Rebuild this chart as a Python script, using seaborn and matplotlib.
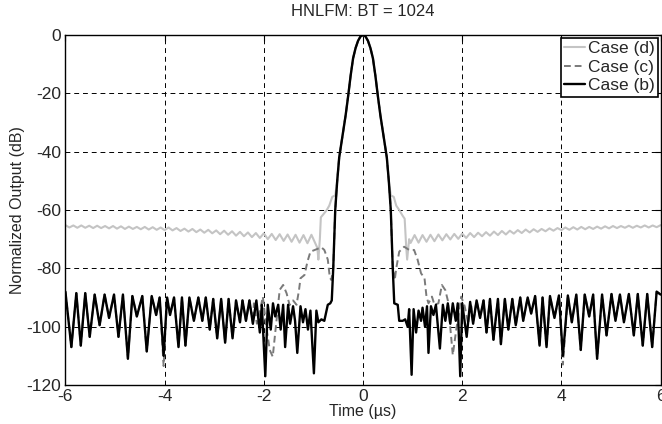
import numpy as np
import matplotlib
matplotlib.use("Agg")
import matplotlib.pyplot as plt
import pandas as pd
import seaborn as sns

# 主瓣 (三种情况共用)
main_t = [-0.60, -0.56, -0.52, -0.48, -0.44, -0.40, -0.35, -0.30, -0.25, -0.20, -0.15, -0.10, -0.05, 0.0,
          0.05, 0.10, 0.15, 0.20, 0.25, 0.30, 0.35, 0.40, 0.44, 0.48, 0.52, 0.56, 0.60]
main_db = [-80, -60, -50, -42, -37.5, -33, -27.5, -21, -14, -8, -4.5, -2, -0.5, 0.0,
           -0.5, -2, -4.5, -8, -14, -21, -27.5, -33, -37.5, -42, -50, -60, -80]

# Case (b): 旁瓣
b_far_left_t = [-6.00, -5.88, -5.78, -5.69, -5.60, -5.51, -5.41, -5.31, -5.21, -5.12, -5.02, -4.93, -4.84,
                -4.74, -4.65, -4.56, -4.45, -4.36, -4.26, -4.17, -4.10, -4.02, -3.95, -3.89, -3.81, -3.72,
                -3.65, -3.58, -3.50, -3.41, -3.32, -3.24, -3.17, -3.09, -3.02, -2.94, -2.86, -2.78, -2.71,
                -2.63, -2.56, -2.48, -2.43, -2.36, -2.29, -2.22, -2.15]
b_far_left_db = [-88, -107, -88.5, -106.5, -88.5, -103.5, -89, -99.5, -89, -97, -89, -103.5, -89,
                 -111, -89.5, -96.5, -89.5, -108.5, -89.5, -96, -90, -110, -90, -96, -90, -107,
                 -90, -106.5, -90, -98, -90, -98, -90, -101, -90.5, -104, -90.5, -105.5, -90.5,
                 -104, -91, -98.5, -91, -98, -91, -99, -91]
b_near_left_t = [-2.08, -2.04, -1.97, -1.92, -1.86, -1.815, -1.77, -1.71, -1.66, -1.61, -1.57, -1.51,
                 -1.47, -1.41, -1.37, -1.325, -1.26, -1.21, -1.16, -1.11, -1.06, -0.99, -0.94, -0.90,
                 -0.84, -0.78, -0.71, -0.66, -0.63]
b_near_left_db = [-102, -92.5, -117, -92.5, -101, -92, -96.5, -92.5, -101, -92.5, -107, -92.5,
                  -99, -93, -98, -109, -93, -98.5, -94, -101, -94.5, -116, -94.5, -98.5,
                  -97.5, -98, -92.5, -92, -91]
b_near_right_t = [0.63, 0.70, 0.73, 0.80, 0.85, 0.90, 0.93, 0.98, 1.02, 1.07, 1.12, 1.17, 1.20, 1.25,
                  1.29, 1.32, 1.37, 1.42, 1.47, 1.50, 1.55, 1.61, 1.66, 1.71, 1.76, 1.81, 1.87, 1.91,
                  1.96, 2.00]
b_near_right_db = [-92, -92.5, -98, -98, -97.5, -100, -94, -116.5, -94, -102, -94.5, -98, -93.5, -100,
                   -93, -109, -93, -96, -92.5, -98, -107.5, -92.5, -98, -92, -99, -92, -98, -92,
                   -117, -92]
b_far_right_t = [2.09, 2.16, 2.22, 2.29, 2.36, 2.43, 2.49, 2.56, 2.63, 2.72, 2.78, 2.86, 2.93, 3.01,
                 3.08, 3.17, 3.23, 3.32, 3.39, 3.47, 3.56, 3.62, 3.70, 3.77, 3.86, 3.95, 4.03, 4.13,
                 4.21, 4.30, 4.39, 4.47, 4.56, 4.64, 4.72, 4.82, 4.91, 5.01, 5.09, 5.18, 5.26, 5.36,
                 5.46, 5.54, 5.64, 5.73, 5.83, 5.92, 6.00]
b_far_right_db = [-103.5, -91.5, -99, -91, -97, -91, -102, -90.5, -104.5, -90.5, -106, -90.5, -101, -90.5,
                  -99.5, -90, -98, -90, -95.5, -89.5, -106.5, -90, -107, -89.5, -97, -89.3, -110, -89.3,
                  -98.5, -89, -108, -89, -96.5, -89, -111, -89, -103, -88.8, -98, -89, -98.5, -88.8,
                  -103, -88.8, -106.5, -88.8, -107, -88, -89]

# Case (c): 近区旁瓣 (远区与 Case (b) 重合)
c_near_left_t = [-2.20, -2.14, -2.07, -2.02, -1.95, -1.88, -1.82, -1.75, -1.68, -1.61, -1.54, -1.48,
                 -1.41, -1.34, -1.29, -1.26, -1.18, -1.12, -1.06, -0.94, -0.84, -0.78, -0.71, -0.67,
                 -0.64]
c_near_left_db = [-92, -99, -94, -89.7, -100, -108, -110.3, -99, -87.4, -85.7, -88.6, -92.6,
                  -91, -92.5, -87.4, -83.4, -82.3, -77.7, -74.3, -73.5, -72.8, -73.7, -77, -83,
                  -84]
c_near_right_t = [0.64, 0.67, 0.73, 0.83, 0.93, 1.03, 1.10, 1.17, 1.24, 1.28, 1.32, 1.39, 1.44, 1.52,
                  1.59, 1.66, 1.71, 1.77, 1.81, 1.88, 1.98, 2.05, 2.12, 2.18]
c_near_right_db = [-84, -80, -74.3, -72.6, -73.7, -73.7, -77, -81.7, -83.4, -89.7, -92, -89.7, -92.5, -92,
                   -85.7, -87.5, -91, -102, -109.7, -101, -89.7, -93, -99, -92]
c_notch_t = [-4.02, 4.03]
c_notch_db = [-113.5, -113]

# Case (d): 旁瓣
d_far_left_t = [-6.00, -5.92, -5.84, -5.76, -5.68, -5.60, -5.52, -5.44, -5.36, -5.28, -5.20, -5.12, -5.04,
                -4.96, -4.88, -4.80, -4.72, -4.64, -4.56, -4.48, -4.40, -4.32, -4.24, -4.16, -4.08, -4.00,
                -3.92, -3.84, -3.76, -3.68, -3.60, -3.52, -3.44, -3.36, -3.28, -3.20, -3.12, -3.04,
                -2.96, -2.88, -2.80, -2.72, -2.64, -2.56, -2.48, -2.40, -2.32, -2.24, -2.16, -2.08, -2.00,
                -1.92, -1.84, -1.76, -1.68, -1.60, -1.52, -1.44, -1.36, -1.28, -1.20, -1.12, -1.04, -0.96]
d_far_left_db = [-65.2, -66.0, -65.3, -66.1, -65.3, -66.1, -65.4, -66.2, -65.4, -66.2, -65.5, -66.3, -65.5,
                 -66.4, -65.6, -66.5, -65.7, -66.5, -65.8, -66.6, -65.8, -66.7, -65.9, -66.8, -66.0, -66.9,
                 -66.0, -67.0, -66.2, -67.2, -66.4, -67.4, -66.5, -67.6, -66.7, -67.8, -66.8, -68.0,
                 -67.0, -68.3, -67.1, -68.5, -67.3, -68.8, -67.5, -69.0, -67.7, -69.3, -67.9, -69.6, -68.0,
                 -70.0, -68.2, -70.3, -68.3, -70.6, -68.4, -70.9, -68.5, -71.2, -68.6, -71.4, -68.5, -71.5]
d_near_left_t = [-0.92, -0.90, -0.87, -0.85, -0.80, -0.73, -0.68, -0.62, -0.56]
d_near_left_db = [-73, -77, -70, -62.5, -61.5, -60, -58.5, -55.5, -55]
d_near_right_t = [0.56, 0.62, 0.67, 0.73, 0.80, 0.84, 0.87, 0.89, 0.93]
d_near_right_db = [-55, -55.5, -58.5, -60, -62, -63, -72.5, -77, -70]
d_far_right_t = [0.96, 1.04, 1.12, 1.20, 1.28, 1.36, 1.44, 1.52, 1.60, 1.68, 1.76, 1.84, 1.92,
                 2.00, 2.08, 2.16, 2.24, 2.32, 2.40, 2.48, 2.56, 2.64, 2.72, 2.80, 2.88, 2.96,
                 3.04, 3.12, 3.20, 3.28, 3.36, 3.44, 3.52, 3.60, 3.68, 3.76, 3.84, 3.92,
                 4.00, 4.08, 4.16, 4.24, 4.32, 4.40, 4.48, 4.56, 4.64, 4.72, 4.80, 4.88, 4.96,
                 5.04, 5.12, 5.20, 5.28, 5.36, 5.44, 5.52, 5.60, 5.68, 5.76, 5.84, 5.92, 6.00]
d_far_right_db = [-71.3, -68.6, -71.2, -68.6, -70.9, -68.5, -70.7, -68.4, -70.4, -68.3, -70.1, -68.2, -69.9,
                  -68.1, -69.6, -67.9, -69.3, -67.8, -69.0, -67.6, -68.8, -67.4, -68.6, -67.2, -68.4, -67.1,
                  -68.1, -66.9, -67.9, -66.7, -67.7, -66.6, -67.5, -66.5, -67.3, -66.3, -67.1, -66.2,
                  -66.9, -66.0, -66.8, -65.9, -66.7, -65.8, -66.6, -65.8, -66.5, -65.7, -66.4, -65.6, -66.3,
                  -65.5, -66.2, -65.5, -66.1, -65.4, -66.1, -65.4, -66.0, -65.3, -66.0, -65.3, -65.9, -65.2]


def build(parts):
    t = np.concatenate([np.asarray(p[0], float) for p in parts])
    db = np.concatenate([np.asarray(p[1], float) for p in parts])
    return pd.DataFrame({"t": t, "db": db})


main_t_arr = np.array(main_t)
main_db_arr = np.array(main_db)

df_b = build([(b_far_left_t, b_far_left_db), (b_near_left_t, b_near_left_db),
              (main_t, main_db), (b_near_right_t, b_near_right_db),
              (b_far_right_t, b_far_right_db)])

bl_t, bl_db = np.array(b_far_left_t), np.array(b_far_left_db)
br_t, br_db = np.array(b_far_right_t), np.array(b_far_right_db)
df_c = build([(bl_t[bl_t < -2.21], bl_db[bl_t < -2.21]), (c_near_left_t, c_near_left_db),
              (main_t, main_db), (c_near_right_t, c_near_right_db),
              (br_t[br_t > 2.2], br_db[br_t > 2.2])])
for tn, dn in zip(c_notch_t, c_notch_db):
    idx = (df_c["t"] - tn).abs().idxmin()
    df_c.loc[idx, "db"] = dn

inner = np.abs(main_t_arr) <= 0.53
df_d = build([(d_far_left_t, d_far_left_db), (d_near_left_t, d_near_left_db),
              (main_t_arr[inner], main_db_arr[inner]), (d_near_right_t, d_near_right_db),
              (d_far_right_t, d_far_right_db)])

sns.set_style("white")
plt.rcParams['font.family'] = ['Liberation Sans', 'DejaVu Sans']
plt.rcParams['axes.unicode_minus'] = False

fig, ax = plt.subplots(figsize=(6.62, 4.24), dpi=100)
fig.subplots_adjust(left=0.0988, right=0.9979, bottom=0.092, top=0.9175)

sns.lineplot(data=df_d, x="t", y="db", color="#c4c4c4", lw=1.5, label="Case (d)",
             estimator=None, sort=False, ax=ax)
sns.lineplot(data=df_c, x="t", y="db", color="#7a7a7a", lw=1.4, label="Case (c)",
             estimator=None, sort=False, ax=ax, linestyle=(0, (3.5, 2)))
sns.lineplot(data=df_b, x="t", y="db", color="black", lw=1.7, label="Case (b)",
             estimator=None, sort=False, ax=ax)

ax.set_xlim(-6, 6)
ax.set_ylim(-120, 0)
ax.set_xticks(range(-6, 7, 2))
ax.set_yticks(range(-120, 1, 20))
ax.grid(True, color="black", linestyle=(0, (5, 4)), linewidth=0.7)
ax.tick_params(direction="in", top=True, right=True, labelsize=12.5, pad=3, length=4, color="black")
for s in ax.spines.values():
    s.set_color("black")
    s.set_linewidth(1.0)

ax.set_title("HNLFM: BT = 1024", fontsize=12, pad=14)
ax.set_xlabel("Time (µs)", fontsize=11.5, labelpad=0)
ax.set_ylabel("Normalized Output (dB)", fontsize=11.5, labelpad=1)

leg = ax.legend(loc="upper right", fontsize=12.5, frameon=True, fancybox=False, borderaxespad=0.15,
                handlelength=1.2, handletextpad=0.15, labelspacing=0.2, borderpad=0.2)
leg.get_frame().set_edgecolor("black")
leg.get_frame().set_linewidth(1.2)
leg.get_frame().set_alpha(1)

fig.savefig("out.png", dpi=100)
